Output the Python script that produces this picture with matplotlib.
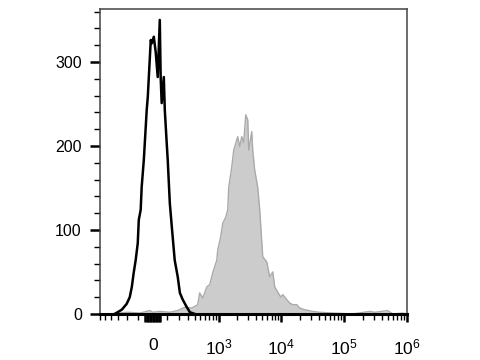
import numpy as np
import matplotlib
matplotlib.use('Agg')
import matplotlib.pyplot as plt
from matplotlib.ticker import FixedLocator, NullFormatter

plt.rcParams['font.family'] = ['Liberation Sans', 'DejaVu Sans']
plt.rcParams['mathtext.fontset'] = 'custom'
plt.rcParams['mathtext.rm'] = 'Liberation Sans'
plt.rcParams['mathtext.it'] = 'Liberation Sans'

# control (black line): intensity, count
ctrl_x = [-340, -251, -199, -170, -152, -136, -120, -104, -96, -82, -75, -60,
          -40, -33, -13, -7, 7, 20, 33, 47, 53, 60, 75, 82, 96, 104, 120,
          136, 161, 189, 210, 240, 288, 328, 400]
ctrl_y = [0, 5, 12, 20, 32, 49, 64, 84, 112, 124, 151, 183,
          243, 258, 326, 322, 330, 311, 282, 350, 282, 251, 282, 243, 204, 183, 132,
          104, 64, 44, 25, 17, 8, 2, 0]

# stained sample (grey filled)
stain_x = [-416, -299, -189, -89, -20, 0, 47, 120, 189, 263, 355, 450, 486, 547,
           639, 715, 801, 931, 965, 1078, 1163, 1298, 1398, 1451, 1622, 1744,
           1947, 2021, 2176, 2340, 2517, 2714, 2920, 3028, 3380, 3506, 3770,
           4205, 4530, 5060, 5860, 6540, 7300, 7860, 8770, 9790, 10530, 12190,
           13600, 15200, 17580, 19620, 23570, 31600, 40900, 65700, 137000,
           255000, 306000, 494000, 593000, 853000, 985000]
stain_y = [0, 1, 2, 1, 4, 2, 3, 2, 4, 8, 7, 11, 25, 19,
           32, 35, 49, 64, 76, 92, 108, 115, 124, 151, 175, 195,
           207, 211, 199, 211, 204, 237, 231, 195, 217, 195, 171,
           151, 124, 68, 62, 44, 50, 32, 26, 20, 23, 17,
           13, 11, 11, 7, 5, 3, 2, 1, 0,
           3, 2, 4, 0, 1, 0]

major_ticks = [0, 1e3, 1e4, 1e5, 1e6]
major_labels = ['0', r'$10^3$', r'$10^4$', r'$10^5$', r'$10^6$']
zero_cluster = [-50, -40, -30, -20, -10, 10, 20, 30, 40, 50]

fig = plt.figure(figsize=(4.8, 3.6), dpi=100)
ax = fig.add_axes([0.208, 0.128, 0.640, 0.847])
ax.set_xscale('asinh', linear_width=180)

ax.fill_between(stain_x, stain_y, color='#cccccc', lw=0)
ax.plot(stain_x, stain_y, color='#aaaaaa', lw=1)
ax.plot(ctrl_x, ctrl_y, color='black', lw=1.8)

ax.set_xlim(-612, 1e6)
ax.set_ylim(0, 363)

ticks = zero_cluster + major_ticks
labels = [''] * len(zero_cluster) + major_labels
ax.xaxis.set_major_locator(FixedLocator(ticks))
ax.set_xticklabels(labels)
minor = [-600, -500, -400, -300, -200, -100, 100, 200, 300, 400, 500, 600, 700, 800, 900]
for d in [1e3, 1e4, 1e5]:
    minor += [m * d for m in range(2, 10)]
ax.xaxis.set_minor_locator(FixedLocator(minor))
ax.xaxis.set_minor_formatter(NullFormatter())

ax.set_yticks([0, 100, 200, 300])
ax.yaxis.set_minor_locator(FixedLocator(np.arange(20, 361, 20)))

ax.tick_params(axis='x', which='major', length=6, width=1.8, pad=11, labelsize=12.5)
ax.tick_params(axis='x', which='minor', length=4, width=1)
ax.tick_params(axis='y', which='major', length=7, width=1.8, pad=6, labelsize=11.5)
ax.tick_params(axis='y', which='minor', length=4, width=1)

for s in ['top', 'right', 'left']:
    ax.spines[s].set_color('#444444')
    ax.spines[s].set_linewidth(1.1)
ax.spines['bottom'].set_linewidth(2.2)
ax.spines['bottom'].set_color('black')

fig.savefig('out.png', dpi=100)
